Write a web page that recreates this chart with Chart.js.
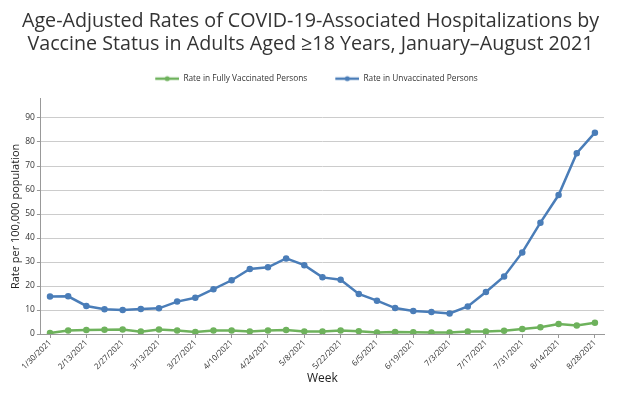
<!DOCTYPE html>
<html>
<head>
<meta charset="utf-8">
<script src="https://cdn.jsdelivr.net/npm/chart.js@4.4.1/dist/chart.umd.min.js"></script>
<style>
  html, body { margin: 0; padding: 0; background: #ffffff; }
  #wrap { width: 640px; height: 407px; position: relative; }
</style>
</head>
<body>
<div id="wrap"><canvas id="hosp-chart"></canvas></div>
<script>
// weekly data, 1/30/2021 .. 8/28/2021
const weeks = [
  "1/30/2021", "2/6/2021", "2/13/2021", "2/20/2021", "2/27/2021", "3/6/2021",
  "3/13/2021", "3/20/2021", "3/27/2021", "4/3/2021", "4/10/2021", "4/17/2021",
  "4/24/2021", "5/1/2021", "5/8/2021", "5/15/2021", "5/22/2021", "5/29/2021",
  "6/5/2021", "6/12/2021", "6/19/2021", "6/26/2021", "7/3/2021", "7/10/2021",
  "7/17/2021", "7/24/2021", "7/31/2021", "8/7/2021", "8/14/2021", "8/21/2021",
  "8/28/2021",
];
const fullyVaccinated = [
  0.4, 1.5, 1.7, 1.8, 1.9, 1.0, 1.9, 1.5, 0.8, 1.5, 1.5, 1.1, 1.5, 1.7, 1.1,
  1.0, 1.5, 1.2, 0.6, 0.8, 0.7, 0.6, 0.6, 1.0, 1.0, 1.4, 2.1, 2.8, 4.2, 3.6,
  4.7,
];
const unvaccinated = [
  15.6, 15.7, 11.7, 10.3, 10.0, 10.4, 10.7, 13.5, 15.1, 18.7, 22.4, 27.1,
  27.8, 31.5, 28.7, 23.6, 22.6, 16.7, 13.9, 10.8, 9.6, 9.2, 8.6, 11.5, 17.5,
  24.0, 34.0, 46.4, 57.9, 75.3, 83.9,
];
const yTicks = [0, 10, 20, 30, 40, 50, 60, 70, 80, 90];

const green = "#6eb25c";
const blue = "#4a7db8";
const fontFamily = "'Open Sans', sans-serif";

// legend marker: short line with a dot, a bit of blank room on the left
function legendMarker(color) {
  const c = document.createElement("canvas");
  c.width = 36;
  c.height = 8;
  const ctx = c.getContext("2d");
  ctx.strokeStyle = color;
  ctx.lineWidth = 2.5;
  ctx.beginPath();
  ctx.moveTo(12, 4);
  ctx.lineTo(36, 4);
  ctx.stroke();
  ctx.fillStyle = color;
  ctx.beginPath();
  ctx.arc(24, 4, 2.5, 0, Math.PI * 2);
  ctx.fill();
  return c;
}

// extra room under the legend, and nudge title + legend a little right
const headerTweak = {
  id: "headerTweak",
  beforeInit(chart) {
    const fit = chart.legend.fit;
    chart.legend.fit = function () {
      fit.call(this);
      this.height += 6;
    };
  },
  afterLayout(chart) {
    [chart.legend, chart.titleBlock].forEach((box) => {
      box.left += 6;
      box.right += 6;
    });
  },
};

const canvas = document.querySelector("#hosp-chart");
canvas.width = 640;
canvas.height = 407;

const options = {
  type: "line",
  data: {
    labels: weeks,
    datasets: [
      {
        label: "Rate in Fully Vaccinated Persons",
        data: fullyVaccinated,
        borderColor: green,
        backgroundColor: green,
        borderWidth: 2.5,
        pointRadius: 2,
        pointHoverRadius: 2,
        pointStyle: "circle",
        tension: 0,
      },
      {
        label: "Rate in Unvaccinated Persons",
        data: unvaccinated,
        borderColor: blue,
        backgroundColor: blue,
        borderWidth: 2.5,
        pointRadius: 2,
        pointHoverRadius: 2,
        pointStyle: "circle",
        tension: 0,
      },
    ],
  },
  plugins: [headerTweak],
  options: {
    responsive: false,
    animation: false,
    devicePixelRatio: 1,
    layout: { padding: { left: 5, right: 36, top: 10, bottom: 17 } },
    plugins: {
      title: {
        display: true,
        text: [
          "Age-Adjusted Rates of COVID-19-Associated Hospitalizations by",
          "Vaccine Status in Adults Aged \u226518 Years, January\u2013August 2021",
        ],
        color: "#333333",
        font: { family: fontFamily, size: 19.7, weight: "normal", lineHeight: 1.18 },
        padding: { top: 0, bottom: 2 },
      },
      legend: {
        position: "top",
        labels: {
          usePointStyle: true,
          pointStyleWidth: 36,
          color: "#333333",
          font: { family: fontFamily, size: 8.3 },
          padding: 16,
          generateLabels(chart) {
            return chart.data.datasets.map((ds, i) => ({
              text: ds.label,
              pointStyle: legendMarker(ds.borderColor),
              fontColor: "#333333",
              strokeStyle: ds.borderColor,
              fillStyle: ds.borderColor,
              lineWidth: 0,
              datasetIndex: i,
              hidden: !chart.isDatasetVisible(i),
            }));
          },
        },
      },
      tooltip: { enabled: false },
    },
    scales: {
      x: {
        type: "category",
        offset: true,
        grid: {
          offset: false,
          drawOnChartArea: false,
          drawTicks: true,
          tickLength: 4,
          tickColor: (ctx) => (ctx.index % 2 === 0 ? "#999999" : "rgba(0,0,0,0)"),
        },
        border: { color: "#999999", width: 1 },
        ticks: {
          autoSkip: false,
          maxRotation: 45,
          minRotation: 45,
          color: "#333333",
          font: { family: fontFamily, size: 8 },
          padding: 0,
          callback(value, index) {
            return index % 2 === 0 ? this.getLabelForValue(value) : "";
          },
        },
        title: {
          display: true,
          text: "Week",
          color: "#222222",
          font: { family: fontFamily, size: 12 },
          padding: { top: 0 },
        },
      },
      y: {
        min: 0,
        max: 98,
        afterBuildTicks(axis) {
          axis.ticks = yTicks.map((v) => ({ value: v }));
        },
        grid: {
          color: "#cccccc",
          tickColor: "#999999",
          tickLength: 4,
          lineWidth: 1,
        },
        border: { color: "#999999", width: 1 },
        ticks: {
          color: "#333333",
          font: { family: fontFamily, size: 8.5 },
          padding: 2,
        },
        title: {
          display: true,
          text: "Rate per 100,000 population",
          color: "#222222",
          font: { family: fontFamily, size: 11 },
          padding: { bottom: 1 },
        },
      },
    },
  },
};

const hospChart = new Chart(canvas, options);
</script>
</body>
</html>
